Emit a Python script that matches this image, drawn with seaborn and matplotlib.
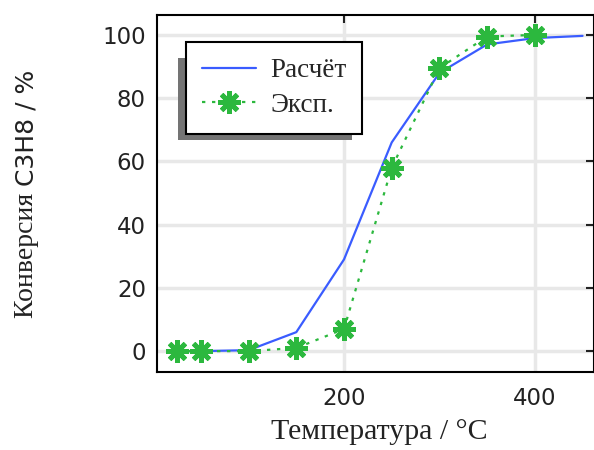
import numpy as np
import pandas as pd
import matplotlib
matplotlib.use("Agg")
import matplotlib.pyplot as plt
import seaborn as sns
from matplotlib.patches import Rectangle

# Data
temp_calc = [25, 50, 100, 150, 200, 250, 300, 350, 400, 450]
conv_calc = [0, 0, 0.3, 6, 29, 66, 88, 97, 99, 99.7]
temp_exp = [25, 50, 100, 150, 200, 250, 300, 350, 400]
conv_exp = [0, 0, 0, 1, 7, 58, 89.5, 99.5, 100]
label_calc = "Расчёт"
label_exp = "Эксп."
xlabel = "Температура / °C"
ylabel_a = "Конверсия "
ylabel_b = "C3H8 / %"
xticks = [200, 400]
yticks = [0, 20, 40, 60, 80, 100]

sns.set_style("white")
plt.rcParams['font.family'] = ['DejaVu Sans']

W, H = 594, 450
fig = plt.figure(figsize=(W / 100, H / 100), dpi=100)
ax = fig.add_axes([157 / W, 78 / H, 437 / W, 357 / H])

df_calc = pd.DataFrame({"T": temp_calc, "X": conv_calc})
df_exp = pd.DataFrame({"T": temp_exp, "X": conv_exp})

sns.lineplot(data=df_calc, x="T", y="X", ax=ax, color="#3a5cff", lw=1.6,
             label=label_calc, zorder=3)
sns.lineplot(data=df_exp, x="T", y="X", ax=ax, color="#2cb83e", lw=1.6,
             linestyle=(0, (1.5, 3)), marker=(8, 2, 0), markersize=16,
             markeredgewidth=3.5, markeredgecolor="#2cb83e",
             label=label_exp, zorder=4)

ax.set_xlim(4, 462)
ax.set_ylim(-6.6, 106.3)
ax.set_xticks(xticks)
ax.set_yticks(yticks)
ax.grid(True, color="#e8e8e8", lw=2.5)
ax.set_axisbelow(True)
ax.tick_params(direction="in", length=6, width=1.5, top=True, right=True,
               labelsize=16.5, colors="#222222", labelcolor="#222222")
ax.tick_params(axis="y", pad=8)
ax.tick_params(axis="x", pad=11)
for s in ax.spines.values():
    s.set_linewidth(1.5)
    s.set_color("black")

ax.set_xlabel(xlabel, family="Liberation Serif", fontsize=21.5, color="#222222", labelpad=6)
ax.xaxis.label.set_x(0.509)
ax.set_ylabel("")

# y label: Cyrillic part in serif, formula part in sans
tx = 33 / W
ty = (H - 318) / H
t1 = fig.text(tx, ty, ylabel_a, rotation=90, rotation_mode="anchor",
              ha="left", va="baseline", family="Liberation Serif",
              fontsize=20, color="#222222")

leg = ax.legend(loc="upper left", bbox_to_anchor=((186 - 157) / 437, (372 - 42) / 357),
                borderaxespad=0, frameon=True, fancybox=False,
                prop={"family": "Liberation Serif", "size": 19.5},
                handlelength=2.0, borderpad=0.6, labelspacing=0.35, handletextpad=0.5)
leg.get_frame().set_edgecolor("black")
leg.get_frame().set_linewidth(1.5)
leg.get_frame().set_alpha(1)
leg.set_zorder(10)

fig.canvas.draw()
r = fig.canvas.get_renderer()
e1 = t1.get_window_extent(r)
t2 = fig.text(tx, e1.y1 / H, ylabel_b, rotation=90, rotation_mode="anchor",
              ha="left", va="baseline", family="DejaVu Sans",
              fontsize=18, color="#222222")

bb = leg.get_frame().get_window_extent(r)
shadow = Rectangle((bb.x0 - 8, bb.y0 - 6), bb.width - 2, bb.height - 10,
                   transform=None, facecolor="#747474", edgecolor="none",
                   zorder=9, clip_on=False)
ax.add_artist(shadow)

fig.savefig("out.png", dpi=100)
